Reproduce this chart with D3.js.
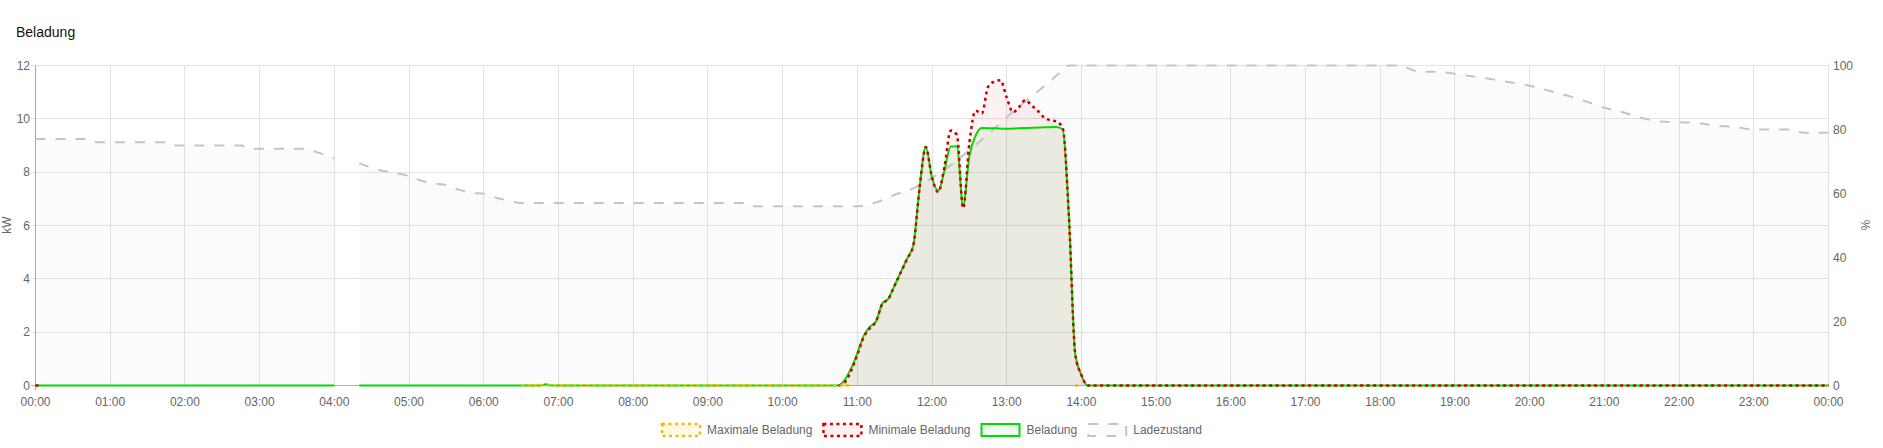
<!DOCTYPE html>
<html><head><meta charset="utf-8">
<script src="https://cdn.jsdelivr.net/npm/d3@7"></script>
<style>html,body{margin:0;padding:0;background:#fff;} svg{display:block;font-family:"Liberation Sans",Arial,sans-serif;}</style>
</head><body><svg id="c" width="1883" height="448"></svg>
<script>
const hourLabels = ["00:00","01:00","02:00","03:00","04:00","05:00","06:00","07:00","08:00","09:00","10:00","11:00","12:00","13:00","14:00","15:00","16:00","17:00","18:00","19:00","20:00","21:00","22:00","23:00","00:00"];
const kwTicks = [0,2,4,6,8,10,12];
const pctTicks = [0,20,40,60,80,100];
const legendLabels = ["Maximale Beladung","Minimale Beladung","Beladung","Ladezustand"];

const maxTimes = ["06:30","10:55","12:00","13:55","14:00"];
const maxValues = [0,0,null,0,0];

const minTimes = ["00:00","00:05","00:10","10:45","10:50","10:55","11:00","11:05","11:10","11:15","11:20","11:25","11:30","11:35","11:40","11:45","11:50","11:55","12:00","12:05","12:10","12:15","12:20","12:25","12:30","12:35","12:40","12:45","12:50","12:55","13:00","13:05","13:10","13:15","13:20","13:25","13:30","13:35","13:40","13:45","13:50","13:55","14:00","14:05","24:00"];
const minValues = [0,0,null,0,0.12,0.55,1.15,1.8,2.15,2.4,3.05,3.25,3.75,4.25,4.75,5.25,7.4,8.94,7.8,7.25,8.2,9.56,9.4,6.65,9.1,10.3,10.2,11.2,11.4,11.45,10.8,10.25,10.45,10.7,10.5,10.3,10.05,9.95,9.9,9.65,6.3,1.2,0.39,0,0];

const belTimes = ["00:00","04:00","04:10","04:20","06:45","06:50","06:55","10:45","10:50","10:55","11:00","11:05","11:10","11:15","11:20","11:25","11:30","11:35","11:40","11:45","11:50","11:55","12:00","12:05","12:10","12:15","12:20","12:25","12:30","12:35","12:40","12:50","13:00","13:10","13:20","13:30","13:40","13:45","13:50","13:55","14:00","14:05","24:00"];
const belValues = [0,0,null,0,0,0.05,0,0,0.22,0.64,1.2,1.85,2.2,2.4,3.07,3.26,3.76,4.26,4.76,5.26,7.4,8.94,7.8,7.3,8.06,8.96,8.96,6.75,8.6,9.37,9.66,9.65,9.63,9.65,9.67,9.68,9.69,9.6,6.3,1.2,0.39,0,0];

const socTimes = ["00:00","00:40","00:50","01:45","01:52","02:45","02:55","03:35","03:45","04:00","04:10","04:20","04:30","04:40","04:50","05:00","05:10","05:20","05:30","05:40","05:50","06:00","06:10","06:20","06:30","09:30","09:35","11:00","11:15","11:30","11:45","12:00","12:15","12:30","12:45","13:00","13:15","13:30","13:45","13:50","18:15","18:30","18:50","19:05","19:25","19:40","20:00","20:15","20:30","20:45","21:00","21:15","21:30","21:45","22:15","22:30","22:45","23:00","23:30","23:40","24:00"];
const socValues = [77,77,76,76,75,75,74,74,73,71,null,69.5,68,67,66.3,65.5,64,63.2,62.6,61.2,60.2,59.9,58.7,57.8,57,57,56,56,57.2,59.6,61.6,64.9,68.8,73.6,78.5,83.8,88.8,93.5,98.5,100,100,98.2,97.9,97.1,96,95,93.7,92.2,90.6,88.8,86.8,85.4,83.6,82.5,82,81.2,80.8,80,80,79,79];

function toH(t){const p=t.split(":").map(Number);return p[0]+p[1]/60;}
function zip(ts,vs){return ts.map((t,i)=>({h:toH(t),v:vs[i]}));}

const L=35.5, R=1828.5, T=65.5, B=385.5;
const x = d3.scaleLinear().domain([0,24]).range([L,R]);
const yk = d3.scaleLinear().domain([0,12]).range([B,T]);
const yp = d3.scaleLinear().domain([0,100]).range([B,T]);

const svg = d3.select("#c");
const crisp = v => Math.round(v-0.5)+0.5;

// title
svg.append("text").attr("x",16).attr("y",37).attr("font-size",14).attr("fill","#111").text("Beladung");

// grid
const g = svg.append("g");
kwTicks.forEach(k=>{
  const yy=crisp(yk(k));
  g.append("line").attr("x1",31).attr("x2",R).attr("y1",yy).attr("y2",yy)
   .attr("stroke", k===0?"#b0b0b0":"#e3e3e3").attr("stroke-width",1);
});
hourLabels.forEach((lab,i)=>{
  const xx=crisp(x(i));
  g.append("line").attr("x1",xx).attr("x2",xx).attr("y1",T).attr("y2",i===0?390:B)
   .attr("stroke", i===0?"#a8a8a8":"#e3e3e3").attr("stroke-width",1);
});
g.append("line").attr("x1",31).attr("x2",R).attr("y1",B).attr("y2",B).attr("stroke","#b0b0b0");

// tick labels
const tl = svg.append("g").attr("font-size",12).attr("fill","#666");
kwTicks.forEach(k=>{
  tl.append("text").attr("x",30).attr("y",yk(k)).attr("dy","0.35em").attr("text-anchor","end").text(k);
});
pctTicks.forEach(p=>{
  tl.append("text").attr("x",1833).attr("y",yp(p)).attr("dy","0.35em").attr("text-anchor","start").text(p);
});
hourLabels.forEach((lab,i)=>{
  tl.append("text").attr("x",x(i)).attr("y",406).attr("text-anchor","middle").text(lab);
});
tl.append("text").attr("transform","translate(7,225) rotate(-90)").attr("dy","0.35em").attr("text-anchor","middle").text("kW");
tl.append("text").attr("transform","translate(1865,225) rotate(90)").attr("dy","0.35em").attr("text-anchor","middle").text("%");

// series
const series = [
  {name:legendLabels[3], data:zip(socTimes,socValues), y:yp, stroke:"#c1c5ca", fill:"rgba(0,0,0,0.014)", w:2, dash:"10,10"},
  {name:legendLabels[2], data:zip(belTimes,belValues), y:yk, stroke:"#00dc00", fill:"rgba(0,200,0,0.055)", w:2, dash:null},
  {name:legendLabels[1], data:zip(minTimes,minValues), y:yk, stroke:"#cc0000", fill:"rgba(204,0,0,0.055)", w:2.5, dash:"3,3.5"},
  {name:legendLabels[0], data:zip(maxTimes,maxValues), y:yk, stroke:"#f7b900", fill:"rgba(255,200,0,0.1)", w:2.5, dash:"3,3.5"}
];
const curve = d3.curveMonotoneX;
const dg = svg.append("g");
series.forEach(s=>{
  const area = d3.area().defined(d=>d.v!==null).x(d=>x(d.h)).y0(B).y1(d=>s.y(d.v)).curve(curve);
  dg.append("path").attr("d",area(s.data)).attr("fill",s.fill).attr("stroke","none");
});
series.forEach(s=>{
  const line = d3.line().defined(d=>d.v!==null).x(d=>x(d.h)).y(d=>s.y(d.v)).curve(curve);
  const p = dg.append("path").attr("d",line(s.data)).attr("fill","none").attr("stroke",s.stroke)
    .attr("stroke-width",s.w).attr("stroke-linejoin","round");
  if(s.dash) p.attr("stroke-dasharray",s.dash);
});

// legend
const legItems = [series[3],series[2],series[1],series[0]];
const lg = svg.append("g").attr("font-size",12).attr("fill","#666");
const widths = legItems.map(s=>{
  const t = lg.append("text").text(s.name); const w=t.node().getComputedTextLength(); t.remove(); return w;});
const total = d3.sum(widths.map(w=>40+6+w)) + 10*(legItems.length-1);
let cx = 931.5 - total/2;
const ly = 430;
legItems.forEach((s,i)=>{
  lg.append("rect").attr("x",cx+1).attr("y",ly-6).attr("width",38).attr("height",12)
    .attr("fill",s.fill).attr("stroke",s.stroke).attr("stroke-width",s.w)
    .attr("stroke-dasharray",s.dash||null);
  lg.append("text").attr("x",cx+46).attr("y",ly).attr("dy","0.35em").text(s.name);
  cx += 40+6+widths[i]+10;
});
</script></body></html>
